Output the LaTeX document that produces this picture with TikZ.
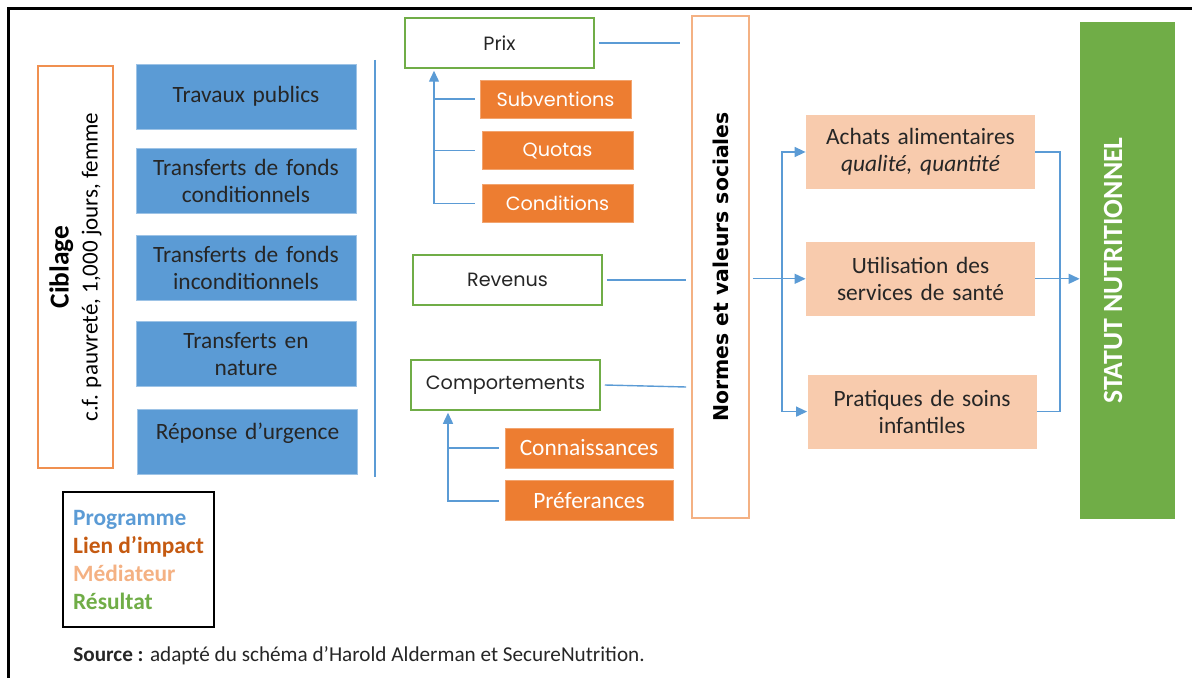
\documentclass[tikz,border=0pt]{standalone}
\usepackage{fontspec}
\setmainfont{Carlito}
\newfontfamily\geofont{Poppins}
\newfontfamily\verdfont{DejaVu Sans}
\usepackage{xcolor}
\usetikzlibrary{arrows.meta, positioning}

\definecolor{progblue}{HTML}{5B9BD5}
\definecolor{linkorange}{HTML}{ED7D31}
\definecolor{linkdark}{HTML}{C55A11}
\definecolor{medpeach}{HTML}{F8CBAD}
\definecolor{medtext}{HTML}{F4B183}
\definecolor{resgreen}{HTML}{70AD47}

\begin{document}
\begin{tikzpicture}[x=0.5pt, y=-0.5pt,
        % Define common styles for nodes
        prog_block/.style={rectangle, fill=progblue, draw=progblue!60!white, line width=0.4pt, minimum width=110pt, minimum height=32.5pt, text width=104pt, align=center, inner sep=0pt, text=black!85, font=\fontsize{11.7}{13.5}\selectfont},
        impact_block/.style={rectangle, draw=resgreen, line width=0.75pt, minimum width=94.5pt, minimum height=25pt, inner sep=0pt, text=black!85, font=\geofont\fontsize{9.6}{11}\selectfont},
        lever_block/.style={rectangle, fill=linkorange, draw=linkorange!70!white, line width=0.4pt, minimum width=75.5pt, minimum height=19pt, inner sep=0pt, text=white, font=\geofont\fontsize{9.6}{11}\selectfont},
        lever_wide/.style={lever_block, minimum width=84pt, minimum height=20pt, font=\fontsize{11.7}{13.5}\selectfont},
        med_block/.style={rectangle, fill=medpeach, minimum width=114.5pt, minimum height=37pt, text width=110pt, align=center, inner sep=0pt, text=black!85, font=\fontsize{11.7}{13.5}\selectfont},
        outline_box/.style={rectangle, draw=medtext, line width=0.9pt, inner sep=0pt},
        link/.style={draw=progblue, line width=0.7pt},
        arrow_link/.style={link, -{Triangle[width=5pt,length=5.5pt]}},
    ]
    \useasboundingbox (0,0) rectangle (1192,678);

    % Frame
    \draw[line width=1.5pt] (8,678) -- (8,9) -- (1192,9);

    % Left side (Ciblage and programmes)
    \node (ciblage) [outline_box, draw=linkorange!85!white, rotate=90, minimum width=201pt, minimum height=37.5pt, align=center,
                     font=\fontsize{11.5}{14.5}\selectfont] at (75.5,267)
        {{\fontsize{13.7}{14.5}\selectfont\bfseries Ciblage}\\ c.f. pauvreté, 1,000 jours, femme};

    \node (travaux) [prog_block] at (246,96.5) {Travaux publics};
    \node (tf_cond) [prog_block, below=9.5pt of travaux] {Transferts de fonds\\ conditionnels};
    \node (tf_incond) [prog_block, below=10.5pt of tf_cond] {Transferts de fonds\\ inconditionnels};
    \node (tf_nature) [prog_block, below=10pt of tf_incond] {Transferts en\\ nature};
    \node (urgence) [prog_block, below=11pt of tf_nature, xshift=0.75pt, text height=9pt, text depth=11pt] {Réponse d’urgence};

    \draw[link] (375,60) -- (375,477); % separator

    % Impact links
    \node (prix) [impact_block] at (499.5,43) {Prix};
    \node (subventions) [lever_block] at (555.5,99) {Subventions};
    \node (quotas) [lever_block, below=6.5pt of subventions, xshift=1pt] {Quotas};
    \node (conditions) [lever_block, below=7pt of quotas] {Conditions};

    \node (revenus) [impact_block] at (507.5,280) {Revenus};

    \node (comportements) [impact_block] at (505.5,385) {Comportements};
    \node (connaissances) [lever_wide] at (589,448) {Connaissances};
    \node (preferances) [lever_wide, below=6pt of connaissances] {Préferances};

    % Normes et valeurs sociales
    \node (normes) [outline_box, rotate=90, minimum width=251pt, minimum height=28.5pt,
                    font=\verdfont\bfseries\fontsize{10.2}{12}\selectfont] at (720.5,267) {Normes et valeurs sociales};

    % Mediators
    \node (achats) [med_block] at (920.5,152) {Achats alimentaires\\ \textit{qualité, quantité}};
    \node (utilisation) [med_block, below=26pt of achats] {Utilisation des\\ services de santé};
    \node (pratiques) [med_block, below=29pt of utilisation, xshift=0.75pt] {Pratiques de soins\\ infantiles};

    % Result
    \node (statut) [rectangle, fill=resgreen, rotate=90, minimum width=248.5pt, minimum height=47.5pt, inner sep=0pt,
                    text depth=14.5pt, text=white, font=\bfseries\fontsize{13.9}{15}\selectfont] at (1127.5,270.5) {STATUT NUTRITIONNEL};

    % Draw connections/arrows
    \coordinate (prix_bus) at (434,99);
    \draw[link] ([xshift=-2.5pt]subventions.west) -- (subventions.west -| prix_bus);
    \draw[link] ([xshift=-3.5pt]quotas.west) -- (quotas.west -| prix_bus);
    \draw[arrow_link] ([xshift=-3.5pt]conditions.west) -| ([yshift=-1pt]prix_bus |- prix.south);

    \coordinate (comp_bus) at (448,448);
    \draw[link] ([xshift=-3pt]connaissances.west) -- (connaissances.west -| comp_bus);
    \draw[arrow_link] ([xshift=-3pt]preferances.west) -| ([yshift=-1pt]comp_bus |- comportements.south);

    \draw[link] ([xshift=2pt]prix.east) -- ([xshift=-5.5pt]prix.east -| normes.north);
    \draw[link] ([xshift=2pt]revenus.east) -- ([xshift=-2.5pt]revenus.east -| normes.north);
    \draw[link] ([xshift=2pt]comportements.east) -- ([xshift=-2.5pt,yshift=-1pt]comportements.east -| normes.north);

    \draw[arrow_link] ([xshift=1.5pt]normes.south |- utilisation.west) -- (utilisation.west);
    \coordinate (med_bus) at (782,278);
    \draw[arrow_link] (med_bus) |- (achats.west);
    \draw[arrow_link] (med_bus) |- (pratiques.west);

    \coordinate (res_bus) at (1060,278);
    \draw[link] (achats.east) -| (res_bus);
    \draw[link] (pratiques.east) -| (res_bus);
    \draw[arrow_link] (utilisation.east) -- (utilisation.east -| statut.north);

    % Legend
    \node (legend) [rectangle, draw=black, line width=1pt, minimum width=75.5pt, minimum height=67.5pt, align=left, inner sep=0pt,
                    font=\bfseries\fontsize{11.7}{14}\selectfont] at (138.5,559.5)
        {{\color{progblue}Programme}\\ {\color{linkdark}Lien d’impact}\\ {\color{medtext}Médiateur}\\ {\color{resgreen}Résultat}};

    \node (source) [anchor=west, inner sep=0pt, text=black!85, font=\fontsize{10.6}{12}\selectfont] at (73,656)
        {\textbf{Source :} adapté du schéma d’Harold Alderman et SecureNutrition.};

\end{tikzpicture}
\end{document}
